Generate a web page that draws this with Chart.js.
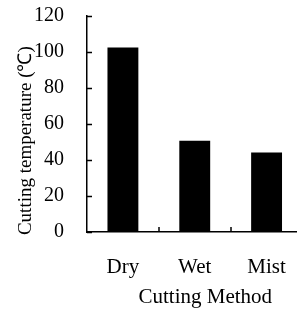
<!DOCTYPE html>
<html>
<head>
<meta charset="utf-8">
<script src="https://cdn.jsdelivr.net/npm/chart.js@4"></script>
<style>
  html, body { margin: 0; padding: 0; background: #fff; overflow: hidden; }
  #wrap { width: 310px; height: 314px; }
</style>
</head>
<body>
<div id="wrap"><canvas id="c" width="310" height="314"></canvas></div>
<script>
// values
const methods = ['Dry', 'Wet', 'Mist'];
const cuttingTemp = [102.5, 50.7, 44.1];
const yTickValues = [0, 20, 40, 60, 80, 100, 120];

const FONT = '"Liberation Serif", "Times New Roman", serif';
const NBSP = '\u00a0';

// ticks point inward, like the original figure
const inwardTicks = {
    id: 'inwardTicks',
    afterDraw(chart) {
        const ctx = chart.ctx;
        const x = chart.scales.x, y = chart.scales.y;
        ctx.save();
        ctx.strokeStyle = '#000';
        ctx.lineWidth = 1.5;
        ctx.beginPath();
        yTickValues.forEach(v => {
            const py = Math.round(y.getPixelForValue(v)) + 0.5;
            ctx.moveTo(x.left, py);
            ctx.lineTo(x.left + 5, py);
        });
        for (let i = 1; i < methods.length; i++) {
            const px = Math.round((x.getPixelForTick(i - 1) + x.getPixelForTick(i)) / 2);
            ctx.moveTo(px, y.bottom);
            ctx.lineTo(px, y.bottom - 5);
        }
        ctx.stroke();
        ctx.restore();
    }
};

new Chart(document.getElementById('c'), {
    type: 'bar',
    data: {
        labels: methods,
        datasets: [{
            data: cuttingTemp,
            backgroundColor: '#000',
            borderWidth: 0,
            categoryPercentage: 1,
            barPercentage: 0.43
        }]
    },
    options: {
        responsive: false,
        animation: false,
        layout: { padding: { top: 0, right: 7, left: 0, bottom: 0 } },
        plugins: { legend: { display: false }, tooltip: { enabled: false } },
        scales: {
            x: {
                offset: true,
                grid: { display: false, drawTicks: false },
                border: { display: true, color: '#000', width: 1.5 },
                ticks: { color: '#000', font: { family: FONT, size: 21 }, padding: 23 },
                // title sits a little right of the axis centre in the original
                title: { display: true, text: NBSP.repeat(4) + 'Cutting Method', color: '#000',
                         font: { family: FONT, size: 21 }, padding: { top: 3 } },
                afterFit(s) { s.height = 82; }
            },
            y: {
                min: 0, max: 120,
                afterBuildTicks(s) { s.ticks = yTickValues.map(v => ({ value: v })); },
                grid: { display: false, drawTicks: false },
                border: { display: true, color: '#000', width: 1.5 },
                ticks: { color: '#000', font: { family: FONT, size: 20 }, padding: 23 },
                // and a little below centre here
                title: { display: true, text: 'Cutting temperature (℃)' + NBSP.repeat(7), color: '#000',
                         font: { family: FONT, size: 19 }, padding: { top: 15, bottom: 0 } },
                afterFit(s) {
                    s.width = 87;
                    s.paddingTop = 16;
                    s.paddingBottom = 0;
                }
            }
        }
    },
    plugins: [inwardTicks]
});
</script>
</body>
</html>
